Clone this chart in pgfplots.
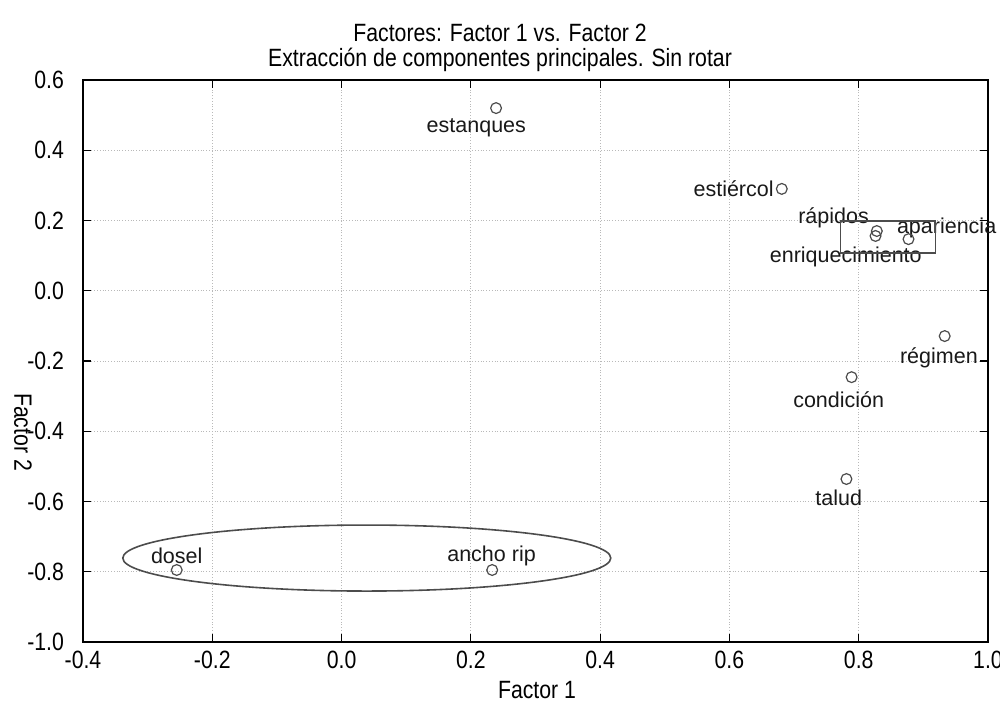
\documentclass[border=0pt]{standalone}
\usepackage{pgfplots}
\pgfplotsset{compat=1.18}
\usepackage{fontspec}
\setmainfont{Liberation Sans}
\newfontfamily\narrowfont[FakeStretch=0.85]{Liberation Sans}

\pgfplotstableread{
x y
0.239 0.520
0.681 0.290
0.828 0.170
0.826 0.156
0.877 0.147
0.933 -0.129
0.789 -0.246
0.781 -0.536
-0.255 -0.795
0.233 -0.795
}\loadings

\begin{document}
\begin{tikzpicture}
\begin{axis}[name=ax, at={(0,0)}, anchor=south west,
  scale only axis, width=452.5pt, height=281pt,
  xmin=-0.4, xmax=1.0, ymin=-1.0, ymax=0.6,
  xtick={-0.4,-0.2,0,0.2,0.4,0.6,0.8,1.0},
  xticklabels={-0.4,-0.2,0.0,0.2,0.4,0.6,0.8,1.0},
  ytick={-1.0,-0.8,-0.6,-0.4,-0.2,0,0.2,0.4,0.6},
  yticklabels={-1.0,-0.8,-0.6,-0.4,-0.2,0.0,0.2,0.4,0.6},
  tick align=inside, major tick length=4pt,
  tick style={black, line width=0.6pt},
  grid=major, grid style={gray!55, densely dotted, line width=0.5pt},
  axis line style={black, line width=0.9pt},
  ticklabel style={font=\narrowfont\fontsize{12.5}{14}\selectfont},
  yticklabel style={xshift=-6pt},
  xticklabel style={yshift=-1pt},
  clip=false,
  label font/.style={},
]
\addplot[only marks, mark=o, mark size=2.7pt, mark options={draw=black!70, line width=0.6pt}] table {\loadings};

\begin{scope}[every node/.style={font=\fontsize{10.75}{12}\selectfont, text=black!90, inner sep=0pt}]
\node at (axis cs:0.2085,0.463) {estanques};
\node[anchor=east] at (axis cs:0.669,0.290) {estiércol};
\node at (axis cs:0.761,0.207) {rápidos};
\node at (axis cs:0.936,0.179) {apariencia};
\node at (axis cs:0.780,0.096) {enriquecimiento};
\node at (axis cs:0.924,-0.191) {régimen};
\node at (axis cs:0.769,-0.311) {condición};
\node at (axis cs:0.769,-0.590) {talud};
\node at (axis cs:-0.255,-0.755) {dosel};
\node at (axis cs:0.232,-0.755) {ancho rip};
\end{scope}

\draw[black!70, line width=0.7pt] (axis cs:0.772,0.199) rectangle (axis cs:0.919,0.107);
\draw[black!70, line width=0.8pt] (axis cs:0.039,-0.761) ellipse [x radius=122pt, y radius=16.5pt];
\end{axis}

\node[font=\narrowfont\fontsize{12.5}{14}\selectfont] at (208.5pt,304.5pt) {Factores: Factor 1 vs. Factor 2};
\node[font=\narrowfont\fontsize{12.5}{14}\selectfont] at (208.5pt,291pt) {Extracción de componentes principales. Sin rotar};
\node[font=\narrowfont\fontsize{12.5}{14}\selectfont] at (227pt,-24pt) {Factor 1};
\node[font=\narrowfont\fontsize{12.5}{14}\selectfont, rotate=-90] at (-30pt,105pt) {Factor 2};

\pgfresetboundingbox
\path[use as bounding box] (-41.5pt,-35.5pt) rectangle (458.5pt,321pt);
\end{tikzpicture}
\end{document}
